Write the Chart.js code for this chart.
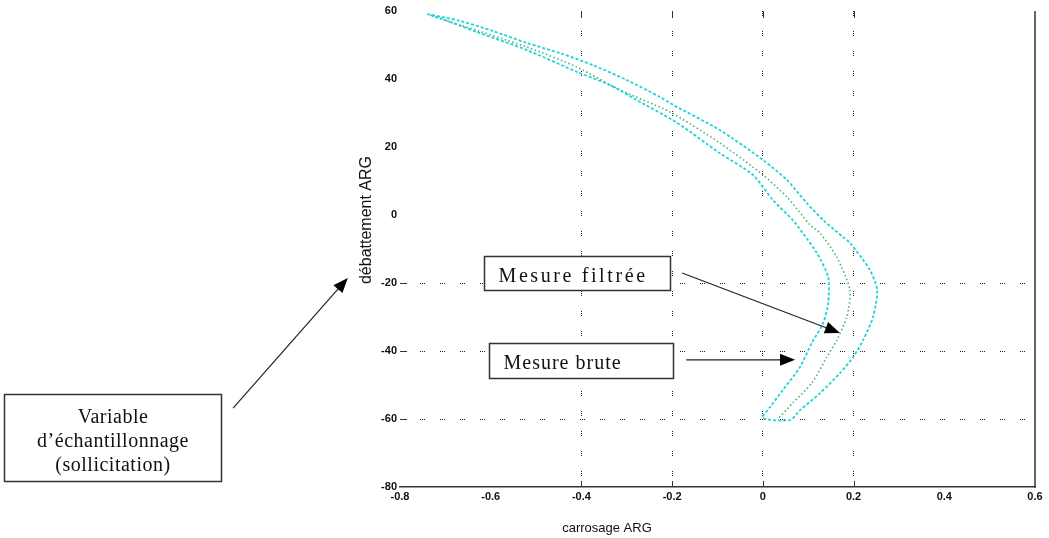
<!DOCTYPE html>
<html lang="fr">
<head>
<meta charset="UTF-8">
<title>Carrossage / débattement ARG</title>
<script src="https://cdn.jsdelivr.net/npm/chart.js@4.4.1/dist/chart.umd.min.js"></script>
<style>
  html, body { margin: 0; padding: 0; background: #fff; }
  #cadre { position: relative; width: 1049px; height: 538px; }
</style>
</head>
<body>
<div id="cadre"><canvas id="grafica"></canvas></div>
<script>
// Mesure brute : branche externe (aller) puis branche interne (retour)
const bruteX = [-0.740, -0.668, -0.595, -0.520, -0.447, -0.375, -0.300, -0.227, -0.198, -0.095,
                0.000, 0.053, 0.097, 0.133, 0.177, 0.192, 0.236, 0.252, 0.243, 0.221,
                0.199, 0.170, 0.126, 0.082, 0.060,
                0.000, 0.016, 0.044, 0.082, 0.108, 0.133, 0.144, 0.144, 0.119, 0.088,
                0.066, 0.022, -0.022, -0.095, -0.189, -0.278, -0.337, -0.410, -0.520, -0.630,
                -0.712, -0.740];
const bruteY = [59.1, 57.1, 54.1, 50.6, 47.6, 44.1, 39.7, 34.7, 32.4, 25.0,
                16.2, 10.3, 3.5, -1.5, -6.5, -8.2, -16.2, -22.1, -30.0, -36.8,
                -41.8, -46.5, -52.4, -57.4, -60.3,
                -59.7, -56.5, -51.5, -44.7, -37.6, -31.8, -25.9, -18.2, -11.2, -5.3,
                -1.5, 4.4, 11.8, 18.2, 27.1, 33.8, 38.2, 42.1, 48.5, 53.8,
                57.9, 59.1];
// Mesure filtrée
const filtreeX = [-0.729, -0.668, -0.520, -0.410, -0.315, -0.205, -0.095, 0.000, 0.053, 0.104,
                  0.126, 0.163, 0.192, 0.185, 0.163, 0.141, 0.108, 0.066, 0.033];
const filtreeY = [58.5, 55.9, 49.4, 43.5, 36.8, 30.3, 21.2, 11.8, 5.3, -2.9,
                  -5.3, -12.4, -22.1, -30.0, -36.8, -41.8, -49.4, -55.3, -60.0];
// Graduations
const ticksX = [-0.8, -0.6, -0.4, -0.2, 0, 0.2, 0.4, 0.6];
const ticksY = [-80, -60, -40, -20, 0, 20, 40, 60];
// Seules lignes de grille encore visibles sur la figure
const grilleX = [-0.4, -0.2, 0, 0.2];
const grilleY = [-60, -40, -20];

const toPoints = (xs, ys) => xs.map((v, i) => ({x: v, y: ys[i]}));

// Annotations (en unités des axes)
const notes = {
  filtree: {texte: 'Mesure filtrée', espace: '2.6px', boite: [-0.615, -12.06, -0.205, -22.06], fleche: [-0.178, -17.06, 0.170, -34.7]},
  brute: {texte: 'Mesure brute', espace: '1px', boite: [-0.604, -37.6, -0.198, -47.9], fleche: [-0.169, -42.6, 0.071, -42.6]},
  variable: {lignes: ['Variable', 'd’échantillonnage', '(sollicitation)'], boite: [-1.673, -52.6, -1.195, -78.2], fleche: [-1.168, -56.8, -0.915, -18.5]}
};

const decor = {
  id: 'decor',
  afterDraw(chart) {
    const {ctx, chartArea: ca, scales: {x, y}} = chart;
    const trait = (x1, y1, x2, y2) => { ctx.beginPath(); ctx.moveTo(x1, y1); ctx.lineTo(x2, y2); ctx.stroke(); };
    ctx.save();
    ctx.strokeStyle = '#333';
    // bord droit
    ctx.lineWidth = 1.5;
    trait(ca.right, ca.top, ca.right, ca.bottom + 0.75);
    // graduations intérieures
    ctx.lineWidth = 1;
    grilleX.forEach(v => {
      const px = Math.round(x.getPixelForValue(v)) + 0.5;
      trait(px, ca.bottom, px, ca.bottom - 6);
      trait(px, ca.top, px, ca.top + 7);
    });
    grilleY.forEach(v => {
      const py = Math.round(y.getPixelForValue(v)) + 0.5;
      trait(ca.left, py, ca.left + 7, py);
    });

    // titres des axes
    ctx.fillStyle = '#111';
    ctx.textAlign = 'center';
    ctx.textBaseline = 'middle';
    ctx.font = '13px "Liberation Sans", Arial, sans-serif';
    ctx.fillText('carrosage ARG', 607, 528);
    ctx.save();
    ctx.translate(367, 220);
    ctx.rotate(-Math.PI / 2);
    ctx.font = '16px "Liberation Sans", Arial, sans-serif';
    ctx.fillText('débattement ARG', 0, 0);
    ctx.restore();

    // boîtes et flèches
    const boite = b => {
      const x1 = Math.round(x.getPixelForValue(b[0])) + 0.5, x2 = Math.round(x.getPixelForValue(b[2])) + 0.5;
      const y1 = Math.round(y.getPixelForValue(b[1])) + 0.5, y2 = Math.round(y.getPixelForValue(b[3])) + 0.5;
      ctx.fillStyle = '#fff';
      ctx.fillRect(x1, y1, x2 - x1, y2 - y1);
      ctx.strokeStyle = '#333';
      ctx.lineWidth = 1.5;
      ctx.strokeRect(x1, y1, x2 - x1, y2 - y1);
      return {x1, y1, x2, y2};
    };
    const fleche = f => {
      const x1 = x.getPixelForValue(f[0]), y1 = y.getPixelForValue(f[1]);
      const x2 = x.getPixelForValue(f[2]), y2 = y.getPixelForValue(f[3]);
      const a = Math.atan2(y2 - y1, x2 - x1);
      ctx.strokeStyle = '#222';
      ctx.lineWidth = 1.2;
      trait(x1, y1, x2 - 12 * Math.cos(a), y2 - 12 * Math.sin(a));
      ctx.fillStyle = '#000';
      ctx.beginPath();
      ctx.moveTo(x2, y2);
      ctx.lineTo(x2 - 15 * Math.cos(a) + 6 * Math.sin(a), y2 - 15 * Math.sin(a) - 6 * Math.cos(a));
      ctx.lineTo(x2 - 15 * Math.cos(a) - 6 * Math.sin(a), y2 - 15 * Math.sin(a) + 6 * Math.cos(a));
      ctx.closePath();
      ctx.fill();
    };

    ctx.font = '20px "Liberation Serif", "Times New Roman", serif';
    ctx.textBaseline = 'middle';
    [notes.filtree, notes.brute].forEach(n => {
      const r = boite(n.boite);
      ctx.fillStyle = '#111';
      ctx.textAlign = 'left';
      ctx.letterSpacing = n.espace;
      ctx.fillText(n.texte, r.x1 + 14, (r.y1 + r.y2) / 2 + 3);
      ctx.letterSpacing = '0px';
      fleche(n.fleche);
    });

    const r = boite(notes.variable.boite);
    ctx.fillStyle = '#111';
    ctx.textAlign = 'center';
    ctx.letterSpacing = '0.5px';
    notes.variable.lignes.forEach((l, i) => {
      ctx.fillText(l, (r.x1 + r.x2) / 2, (r.y1 + r.y2) / 2 + 4 + (i - 1) * 24);
    });
    ctx.letterSpacing = '0px';
    fleche(notes.variable.fleche);
    ctx.restore();
  }
};

const police = {family: '"Liberation Sans", Arial, sans-serif', size: 11, weight: 'bold'};

new Chart(document.getElementById('grafica'), {
  type: 'scatter',
  data: {
    datasets: [{
      label: 'Mesure brute',
      data: toPoints(bruteX, bruteY),
      showLine: true,
      borderColor: '#1fd4d8',
      borderWidth: 1.8,
      borderDash: [3, 2],
      pointRadius: 0,
      tension: 0.25
    }, {
      label: 'Mesure filtrée',
      data: toPoints(filtreeX, filtreeY),
      showLine: true,
      borderColor: '#47b27a',
      borderWidth: 1.6,
      borderDash: [1.5, 2.5],
      pointRadius: 0,
      tension: 0.25
    }]
  },
  options: {
    responsive: true,
    maintainAspectRatio: false,
    animation: false,
    layout: {padding: {left: 355, right: 14, top: 11, bottom: 0}},
    plugins: {legend: {display: false}, tooltip: {enabled: false}},
    scales: {
      x: {
        type: 'linear',
        min: -0.8,
        max: 0.6,
        afterBuildTicks: s => { s.ticks = ticksX.map(v => ({value: v})); },
        afterFit: s => { s.height = 51; },
        ticks: {
          color: '#111',
          font: police,
          padding: 3,
          maxRotation: 0,
          callback: v => (v === 0 ? '0' : v.toFixed(1))
        },
        grid: {
          drawTicks: false,
          lineWidth: 1,
          color: c => (c.tick && grilleX.includes(c.tick.value) ? '#222' : 'rgba(0,0,0,0)')
        },
        border: {display: true, color: '#333', width: 1.5, dash: [1, 1, 1, 1, 1, 15]}
      },
      y: {
        type: 'linear',
        min: -80,
        max: 60,
        afterBuildTicks: s => { s.ticks = ticksY.map(v => ({value: v})); },
        afterFit: s => { s.width = 45; },
        ticks: {
          color: '#111',
          font: police,
          padding: 3,
          callback: v => String(v)
        },
        grid: {
          drawTicks: false,
          lineWidth: 1,
          color: c => (c.tick && grilleY.includes(c.tick.value) ? '#222' : 'rgba(0,0,0,0)')
        },
        border: {display: false, dash: [1, 1, 1, 1, 1, 15]}
      }
    }
  },
  plugins: [decor]
});
</script>
</body>
</html>
